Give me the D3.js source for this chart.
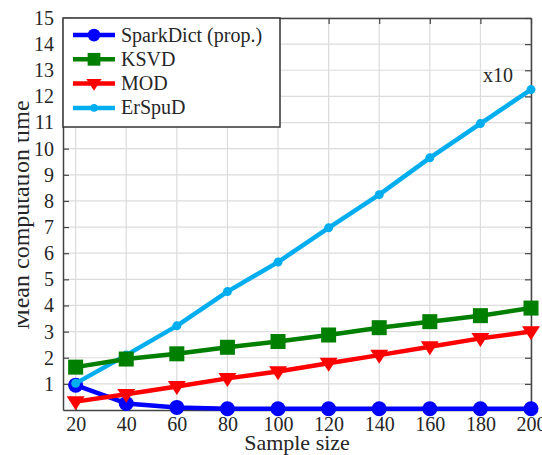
<!DOCTYPE html>
<html>
<head>
<meta charset="utf-8">
<script src="https://cdn.jsdelivr.net/npm/d3@7"></script>
<style>
  body { margin: 0; background: #fff; }
</style>
</head>
<body>
<div id="chart"></div>
<script>
// data
var sampleSizes = [20, 40, 60, 80, 100, 120, 140, 160, 180, 200];
var sparkDict = [0.95, 0.25, 0.1, 0.05, 0.05, 0.05, 0.05, 0.05, 0.05, 0.05];
var ksvd      = [1.64, 1.95, 2.15, 2.4, 2.62, 2.87, 3.15, 3.38, 3.61, 3.9];
var mod       = [0.32, 0.6, 0.9, 1.21, 1.47, 1.79, 2.1, 2.42, 2.74, 3.0];
var erspud    = [1.02, 2.1, 3.22, 4.53, 5.66, 6.97, 8.24, 9.65, 10.96, 12.26];
var yTicks = d3.range(1, 16);
var xTicks = sampleSizes;

var FONT = "Liberation Serif";

var width = 542, height = 455;
var margin = {top: 18, right: 11, bottom: 45, left: 63};

var svg = d3.select("#chart")
  .append("svg")
    .attr("width", width)
    .attr("height", height);

var x = d3.scaleLinear()
  .domain([15, 200])
  .range([margin.left, width - margin.right]);

var y = d3.scaleLinear()
  .domain([0, 15])
  .range([height - margin.bottom, margin.top]);

// grid
svg.append("g").selectAll("line")
  .data(xTicks).enter().append("line")
    .attr("x1", d => x(d)).attr("x2", d => x(d))
    .attr("y1", y(0)).attr("y2", y(15))
    .attr("stroke", "#dcdcdc").attr("stroke-width", 1.2);
svg.append("g").selectAll("line")
  .data(yTicks).enter().append("line")
    .attr("x1", x(15)).attr("x2", x(200))
    .attr("y1", d => y(d)).attr("y2", d => y(d))
    .attr("stroke", "#dcdcdc").attr("stroke-width", 1.2);

// axes, ticks pointing inward
function styleAxis(g) {
  g.attr("font-family", FONT).attr("font-size", 20);
  g.select(".domain").attr("stroke", "#444").attr("stroke-width", 1.5);
  g.selectAll(".tick line").attr("stroke", "#444").attr("stroke-width", 1.2);
  g.selectAll("text").attr("fill", "#262626");
}

svg.append("g")
  .attr("transform", "translate(" + margin.left + ",0)")
  .call(d3.axisLeft(y).tickValues(yTicks).tickSize(-6).tickPadding(9).tickSizeOuter(0))
  .call(styleAxis);

svg.append("g")
  .attr("transform", "translate(0," + y(0) + ")")
  .call(d3.axisBottom(x).tickValues(xTicks).tickSize(-6).tickPadding(7).tickSizeOuter(0))
  .call(styleAxis);

svg.append("g")
  .attr("transform", "translate(" + x(200) + ",0)")
  .call(d3.axisRight(y).tickValues(yTicks).tickSize(-6).tickFormat("").tickSizeOuter(0))
  .call(styleAxis);

svg.append("g")
  .attr("transform", "translate(0," + margin.top + ")")
  .call(d3.axisTop(x).tickValues(xTicks).tickSize(-6).tickFormat("").tickSizeOuter(0))
  .call(styleAxis);

// series
var series = [
  {name: "SparkDict (prop.)", values: sparkDict, color: "#0000ff", marker: "circle", size: 7.5},
  {name: "ErSpuD", values: erspud, color: "#00aeef", marker: "dot", size: 4.5},
  {name: "KSVD", values: ksvd, color: "#007f00", marker: "square", size: 7.5},
  {name: "MOD", values: mod, color: "#ff0000", marker: "tri", size: 9}
];

function drawMarker(g, type, size, color) {
  if (type === "circle" || type === "dot") {
    g.append("circle").attr("r", size).attr("fill", color);
  } else if (type === "square") {
    g.append("rect").attr("x", -size).attr("y", -size)
      .attr("width", size * 2).attr("height", size * 2).attr("fill", color);
  } else if (type === "tri") {
    g.append("path")
      .attr("d", "M" + (-size) + "," + (-size * 0.6) + "L" + size + "," + (-size * 0.6) + "L0," + (size * 0.95) + "Z")
      .attr("fill", color);
  }
}

var line = d3.line()
  .x((d, i) => x(sampleSizes[i]))
  .y(d => y(d));

series.forEach(function(s) {
  svg.append("path")
    .datum(s.values)
    .attr("fill", "none")
    .attr("stroke", s.color)
    .attr("stroke-width", 4.5)
    .attr("stroke-linejoin", "round")
    .attr("d", line);
  s.values.forEach(function(v, i) {
    var g = svg.append("g")
      .attr("transform", "translate(" + x(sampleSizes[i]) + "," + y(v) + ")");
    drawMarker(g, s.marker, s.size, s.color);
  });
});

// legend
var legendOrder = [series[0], series[2], series[3], series[1]];
var legend = svg.append("g");
legend.append("rect")
  .attr("x", margin.left).attr("y", margin.top)
  .attr("width", 217).attr("height", 109)
  .attr("fill", "#fff").attr("stroke", "#333").attr("stroke-width", 1.5);

legendOrder.forEach(function(s, i) {
  var ly = 35 + i * 24.3;
  legend.append("line")
    .attr("x1", 73).attr("x2", 115).attr("y1", ly).attr("y2", ly)
    .attr("stroke", s.color).attr("stroke-width", 4.5);
  var g = legend.append("g").attr("transform", "translate(94," + ly + ")");
  drawMarker(g, s.marker, s.size * 0.85, s.color);
  legend.append("text")
    .attr("x", 121).attr("y", ly + 6.5)
    .attr("font-family", FONT).attr("font-size", 20)
    .attr("fill", "#262626")
    .text(s.name);
});

// annotation
svg.append("text")
  .attr("x", 483).attr("y", 82)
  .attr("font-family", FONT).attr("font-size", 20)
  .attr("fill", "#262626")
  .text("x10");

// axis labels
svg.append("text")
  .attr("x", 297).attr("y", 450)
  .attr("text-anchor", "middle")
  .attr("font-family", FONT).attr("font-size", 22)
  .attr("fill", "#262626")
  .text("Sample size");

svg.append("clipPath").attr("id", "ylabclip")
  .append("rect").attr("x", 18).attr("y", 0).attr("width", 40).attr("height", height);

svg.append("g").attr("clip-path", "url(#ylabclip)")
  .append("text")
    .attr("transform", "translate(29,215) rotate(-90)")
    .attr("text-anchor", "middle")
    .attr("font-family", FONT).attr("font-size", 24)
    .attr("fill", "#262626")
    .text("Mean computation time");
</script>
</body>
</html>
